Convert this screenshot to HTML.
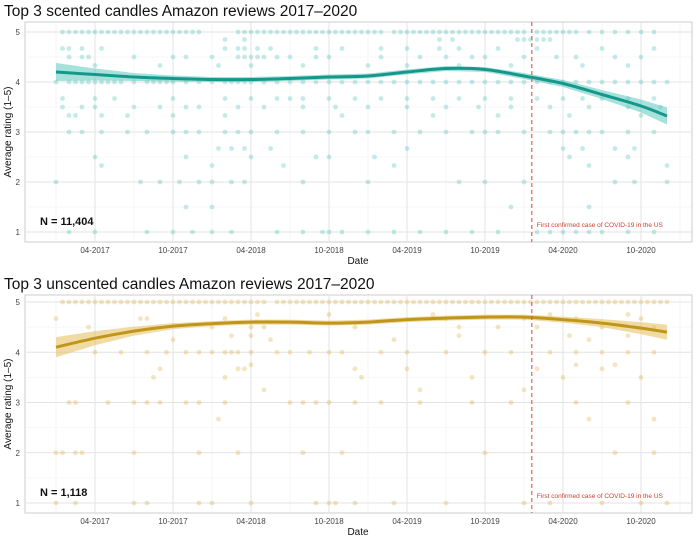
<!DOCTYPE html>
<html><head><meta charset="utf-8">
<style>
html,body{margin:0;padding:0;background:#fff;width:700px;height:541px;overflow:hidden}
svg text{font-family:"Liberation Sans",sans-serif}
</style></head>
<body>
<svg id="chart" width="700" height="541" xmlns="http://www.w3.org/2000/svg"></svg>
<script>
// ---- data (months since Jan 2017) ----
const tickLabels = ["04-2017","10-2017","04-2018","10-2018","04-2019","10-2019","04-2020","10-2020"];
const tickMonths = [3,9,15,21,27,33,39,45];
const yTicks = [1,2,3,4,5];
const covidMonth = 36.6;
const smoothMonths = [0,3,6,9,12,15,18,21,24,27,30,33,36,39,42,45,47];
const scentedSmooth = [4.2,4.15,4.1,4.07,4.05,4.05,4.07,4.1,4.12,4.2,4.27,4.25,4.12,3.97,3.75,3.52,3.32];
const scentedSE = [0.18,0.12,0.08,0.06,0.05,0.05,0.05,0.05,0.05,0.05,0.05,0.05,0.06,0.07,0.09,0.13,0.17];
const unscentedSmooth = [4.1,4.28,4.42,4.52,4.57,4.6,4.6,4.58,4.6,4.65,4.68,4.7,4.7,4.65,4.58,4.48,4.4];
const unscentedSE = [0.2,0.14,0.09,0.06,0.05,0.05,0.05,0.05,0.05,0.05,0.05,0.05,0.05,0.06,0.08,0.12,0.15];
// scatter points grouped by rating level: level value + months list
const scentedLevels = [5,4.85,4.67,4.5,4.33,4,3.67,3.5,3.33,3,2.67,2.5,2.33,2,1.5,1];
const scentedMonthsByLevel = [
 [0.5,1,1.5,2,2.5,3,3.5,4,4.5,5,5.5,6,6.5,7,7.5,8,8.5,9,9.5,10,10.5,11,14,14.5,15,15.5,16,16.5,17,17.5,18,18.5,19,19.5,20,20.5,21,21.5,22,22.5,23,23.5,24,24.5,25,26,26.5,27,27.5,28,28.5,29,29.5,30,30.5,31,31.5,32,32.5,33,33.5,34,34.5,35,35.5,36,37,37.5,38,38.5,39,39.5,40,41,42,43,44,45,46],
 [35.5,36,36.5,37,37.5,38,13,14.5,29.5,30.5],
 [0.5,1,2,3.5,13,14,14.5,15.5,16.5,20,22,25,27,29.5,31,34,37,42,46],
 [1,2,2.5,6,9,10,12,14,14.5,15,15.5,16,17,18,20,21,25,28,30,32,33,36,38.5,40,43,45],
 [3,8,12.5,15,19,24,27,31,35,40.5,44],
 [0,1,1.5,2,2.5,3,3.5,4,4.5,5,6,7,7.5,8,8.5,9,10,11,12,13,13.5,14,14.5,15,16,17,18,19,20,21,22,23,24,25,26,27,28,29,30,31,32,33,34,35,36,37,38,39,40,41,42,43,44,45,46,47],
 [0.5,3,4.5,9,13,15,17,18,19,21,23,25,27,29,31,33,35,37,39,40.5,42,44,46],
 [0.5,2,3,6,8,10,11,14,16,19,21.5,24,27,30,32.5,35,38,41,44,46.5],
 [1,1.5,3.5,5.5,9,13,22,29,34,39.5,45],
 [1,2,3.5,5.5,7,9,10,11,13,14,15,17,19,21,23,24,26,28,30,32,33,34,36,38,39,40,41,42,44,46],
 [12.5,13.5,14.5,16.5,27,39,40.5,43,44.5],
 [3,10,15,20,21,24.5,39.5,44],
 [3.5,12,17.5,26,41,47],
 [0,6.5,8,9.5,11,12,13.5,14.5,19,24,31,33,36,43,44.5,47],
 [10,12,35,41],
 [1,3,7,9,10.5,12,13.5,17,19,20.5,21,22,24,26,28,30,32,34,37,38,39,40,41,42,44,46]
];
const unscentedLevels = [5,4.75,4.67,4.5,4.33,4.25,4,3.75,3.67,3.5,3.25,3,2.67,2,1];
const unscentedMonthsByLevel = [
 [0.5,1,1.5,2,2.5,3,3.5,4,4.5,5,5.5,6,6.5,7,7.5,8,8.5,9,9.5,10,10.5,11,11.5,12,12.5,13,13.5,14,14.5,15,15.5,16,17,17.5,18,18.5,19,19.5,20,20.5,21,21.5,22,22.5,23,23.5,24,24.5,25,25.5,26,26.5,27,27.5,28,28.5,29,29.5,30,30.5,31,31.5,32,32.5,33,33.5,34,34.5,35,35.5,36,36.5,37,37.5,38,38.5,39,39.5,40,40.5,41,41.5,42,42.5,43,43.5,44,44.5,45,45.5,46,46.5,47],
 [15.5,21,29,38,44],
 [0,6.5,7,13,30,36,40,45],
 [2.5,12,15,16,23,31,34,37,42,46],
 [13.5,15,31,39.5,44],
 [9,16.5,26,41],
 [3,5,7,8.5,10,11,12,13,13.5,14,15,17,18,19.5,21,22,25,27,30,33,35,38,40,42,44,46],
 [15,40,43],
 [8,14,14.5,23,27,37,42],
 [7.5,13,23.5,32,39,45],
 [16,28,36],
 [1,1.5,4,6,7,8,10,11,13,18,19,20,21,23,25,28,32,35,40,44],
 [12.5,41,46],
 [0,0.5,1.5,2,6,11,14,19,22,33,43,46],
 [0,1.5,6,7,11,12,15,20,21,21.5,23,26,30,36,38,42,45,47]
];

const svg = document.getElementById('chart');
const NS = 'http://www.w3.org/2000/svg';
function mk(tag, attrs, parent){const e=document.createElementNS(NS,tag);for(const k in attrs)e.setAttribute(k,attrs[k]);(parent||svg).appendChild(e);return e;}

function panel(cfg){
  const g = mk('g',{});
  
  
  const L=25,R=692,T=cfg.top,B=cfg.bottom;
  const xS = m => 56 + m*13;
  const yS = v => cfg.y1 + (v-1)*(cfg.y5-cfg.y1)/4;
  const title = mk('text',{x:4,y:cfg.top-6,'font-size':15.5,fill:'#111'},g);
  title.textContent = cfg.title;
  
  
  mk('rect',{x:L,y:T,width:R-L,height:B-T,fill:'#fff',stroke:'#ccc','stroke-width':1},g);
  for(let v=1.5; v<5; v+=1) mk('line',{x1:L,x2:R,y1:yS(v),y2:yS(v),stroke:'#f0f0f0','stroke-width':0.6},g);
  for(let i=0;i<tickMonths.length;i++){ const m=tickMonths[i]-3; mk('line',{x1:xS(m),x2:xS(m),y1:T,y2:B,stroke:'#f0f0f0','stroke-width':0.6},g);}
  mk('line',{x1:xS(48),x2:xS(48),y1:T,y2:B,stroke:'#f0f0f0','stroke-width':0.6},g);
  yTicks.forEach(v=>{
    mk('line',{x1:L,x2:R,y1:yS(v),y2:yS(v),stroke:'#e3e3e3','stroke-width':1},g);
    const t=mk('text',{x:L-5,y:yS(v)+3,'font-size':8,fill:'#444','text-anchor':'end'},g);
    t.textContent=v;
    
    
  });
  tickMonths.forEach((m,i)=>{
    mk('line',{x1:xS(m),x2:xS(m),y1:T,y2:B,stroke:'#e3e3e3','stroke-width':1},g);
    const t=mk('text',{x:xS(m),y:B+11,'font-size':8,fill:'#444','text-anchor':'middle'},g);
    t.textContent=tickLabels[i];
    
    
  });
  cfg.levels.forEach((lv,li)=>{
    cfg.byLevel[li].forEach(m=>{
      const c=mk('circle',{cx:xS(m),cy:yS(lv),r:2.4,fill:cfg.pt,'fill-opacity':0.3},g);
      
      
    });
  });
  let up='',lo='';
  smoothMonths.forEach((m,i)=>{up+=(i?'L':'M')+xS(m)+','+yS(cfg.sm[i]+cfg.se[i]);});
  for(let i=smoothMonths.length-1;i>=0;i--) lo+='L'+xS(smoothMonths[i])+','+yS(cfg.sm[i]-cfg.se[i]);
  const band=mk('path',{d:up+lo+'Z',fill:cfg.band,'fill-opacity':0.55},g);
  
  
  const pts=smoothMonths.map((m,i)=>[xS(m),yS(cfg.sm[i])]);
  let d='M'+pts[0];
  for(let i=0;i<pts.length-1;i++){const p0=pts[Math.max(0,i-1)],p1=pts[i],p2=pts[i+1],p3=pts[Math.min(pts.length-1,i+2)];
    d+=`C${p1[0]+(p2[0]-p0[0])/6},${p1[1]+(p2[1]-p0[1])/6} ${p2[0]-(p3[0]-p1[0])/6},${p2[1]-(p3[1]-p1[1])/6} ${p2[0]},${p2[1]}`;}
  const ln=mk('path',{d:d,fill:'none',stroke:cfg.line,'stroke-width':3},g);
  
  
  const cv=mk('line',{x1:xS(covidMonth),x2:xS(covidMonth),y1:T,y2:B,stroke:'#e06050','stroke-width':1.2,'stroke-dasharray':'4,3'},g);
  
  
  const ct=mk('text',{x:xS(covidMonth)+5,y:yS(1)-5,'font-size':6.5,fill:'#d04030'},g);
  ct.textContent='First confirmed case of COVID-19 in the US';
  
  
  const nt=mk('text',{x:40,y:yS(1)-7,'font-size':11,'font-weight':'bold',fill:'#111'},g);
  nt.textContent=cfg.n;
  
  
  const xt=mk('text',{x:358,y:B+22,'font-size':10,fill:'#111','text-anchor':'middle'},g);
  xt.textContent='Date';
  
  
  const yt=mk('text',{x:0,y:0,'font-size':10,fill:'#111','text-anchor':'middle',transform:`translate(11,${(T+B)/2}) rotate(-90)`},g);
  yt.textContent='Average rating (1\u20135)';
  
  
}
panel({name:'scented-panel',title:'Top 3 scented candles Amazon reviews 2017\u20132020',top:22,bottom:242,y5:32,y1:232,
  levels:scentedLevels,byLevel:scentedMonthsByLevel,sm:scentedSmooth,se:scentedSE,pt:'#3dbdb0',band:'#5cc9bd',line:'#16978b',n:'N = 11,404'});
panel({name:'unscented-panel',title:'Top 3 unscented candles Amazon reviews 2017\u20132020',top:295,bottom:513,y5:302,y1:503,
  levels:unscentedLevels,byLevel:unscentedMonthsByLevel,sm:unscentedSmooth,se:unscentedSE,pt:'#d9a62a',band:'#e6be5a',line:'#c0961a',n:'N = 1,118'});
</script>
</body></html>
